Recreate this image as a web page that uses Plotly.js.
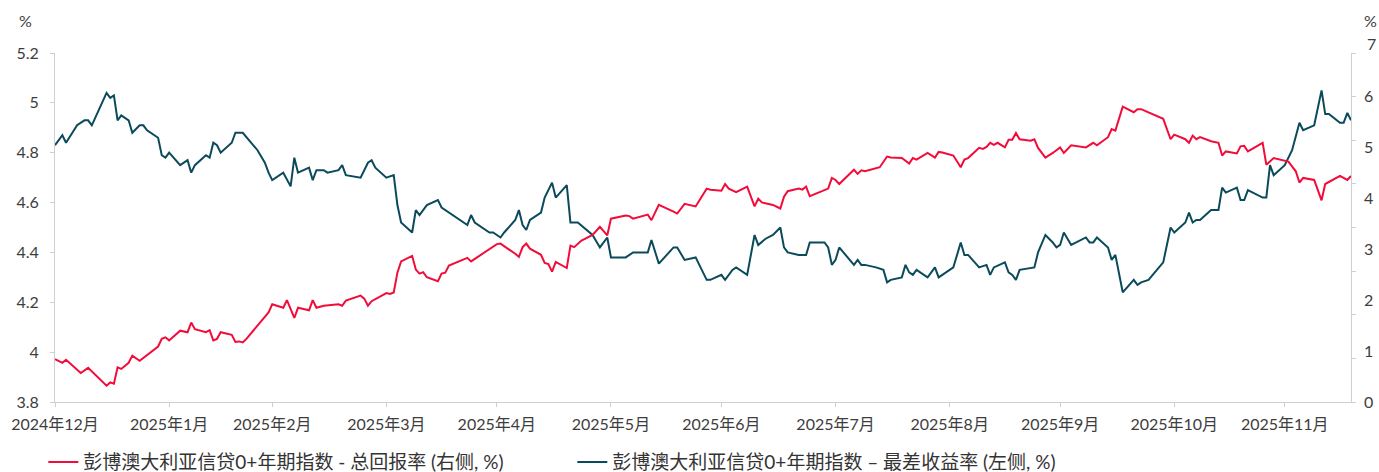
<!DOCTYPE html>
<html>
<head>
<meta charset="utf-8">
<script src="https://cdn.plot.ly/plotly-3.0.1.min.js"></script>
<style>
  html, body { margin: 0; padding: 0; background: #ffffff; }
  #chart { width: 1379px; height: 472px; }
</style>
</head>
<body>
<div id="chart"></div>
<script>
// ---- Data ----
// Total return (right axis, %)
const totalReturnDates = [
  '2024-12-31','2025-01-02','2025-01-03','2025-01-07','2025-01-09','2025-01-14','2025-01-15','2025-01-16','2025-01-17','2025-01-18',
  '2025-01-20','2025-01-21','2025-01-23','2025-01-28','2025-01-29','2025-01-30','2025-01-31','2025-02-03','2025-02-05','2025-02-06',
  '2025-02-07','2025-02-10','2025-02-11','2025-02-12','2025-02-13','2025-02-14','2025-02-17','2025-02-18','2025-02-19','2025-02-20',
  '2025-02-21','2025-02-25','2025-02-27','2025-02-28','2025-03-03','2025-03-04','2025-03-06','2025-03-07','2025-03-10','2025-03-11',
  '2025-03-12','2025-03-14','2025-03-18','2025-03-19','2025-03-20','2025-03-24','2025-03-25','2025-03-26','2025-03-27','2025-03-31',
  '2025-04-01','2025-04-02','2025-04-03','2025-04-04','2025-04-07','2025-04-08','2025-04-09','2025-04-10','2025-04-11','2025-04-14',
  '2025-04-15','2025-04-16','2025-04-17','2025-04-22','2025-04-23','2025-04-30','2025-05-01','2025-05-05','2025-05-06','2025-05-07',
  '2025-05-08','2025-05-09','2025-05-12','2025-05-13','2025-05-14','2025-05-15','2025-05-16','2025-05-19','2025-05-20','2025-05-21',
  '2025-05-23','2025-05-26','2025-05-28','2025-05-30','2025-05-31','2025-06-04','2025-06-05','2025-06-06','2025-06-10','2025-06-11',
  '2025-06-13','2025-06-17','2025-06-18','2025-06-20','2025-06-23','2025-06-26','2025-06-27','2025-06-30','2025-07-01','2025-07-02',
  '2025-07-04','2025-07-07','2025-07-09','2025-07-10','2025-07-11','2025-07-14','2025-07-16','2025-07-17','2025-07-18','2025-07-21',
  '2025-07-22','2025-07-23','2025-07-24','2025-07-29','2025-07-30','2025-07-31','2025-08-01','2025-08-05','2025-08-06','2025-08-07',
  '2025-08-08','2025-08-12','2025-08-14','2025-08-15','2025-08-18','2025-08-20','2025-08-21','2025-08-22','2025-08-25','2025-08-27',
  '2025-08-28','2025-08-29','2025-09-01','2025-09-03','2025-09-04','2025-09-05','2025-09-08','2025-09-09','2025-09-10','2025-09-11',
  '2025-09-12','2025-09-13','2025-09-15','2025-09-16','2025-09-17','2025-09-18','2025-09-19','2025-09-22','2025-09-23','2025-09-24',
  '2025-09-26','2025-09-28','2025-09-30','2025-10-01','2025-10-03','2025-10-07','2025-10-09','2025-10-10','2025-10-13','2025-10-14',
  '2025-10-15','2025-10-17','2025-10-20','2025-10-21','2025-10-22','2025-10-28','2025-10-30','2025-10-31','2025-11-03','2025-11-04',
  '2025-11-05','2025-11-06','2025-11-07','2025-11-10','2025-11-12','2025-11-13','2025-11-14','2025-11-17','2025-11-18','2025-11-19',
  '2025-11-20','2025-11-24','2025-11-25','2025-11-27','2025-11-28','2025-12-01','2025-12-03','2025-12-04','2025-12-05','2025-12-08',
  '2025-12-10','2025-12-11','2025-12-15','2025-12-17','2025-12-18'
];
const totalReturnValues = [
  0.84,0.77,0.83,0.57,0.67,0.32,0.385,0.36,0.68,0.65,
  0.77,0.91,0.81,1.09,1.24,1.27,1.21,1.40,1.37,1.56,
  1.43,1.37,1.41,1.21,1.24,1.37,1.32,1.18,1.19,1.17,
  1.24,1.58,1.76,1.92,1.85,2.00,1.65,1.85,1.80,2.00,
  1.85,1.89,1.92,1.89,1.99,2.09,2.03,1.89,1.98,2.14,
  2.12,2.15,2.54,2.76,2.87,2.60,2.52,2.55,2.45,2.37,
  2.52,2.54,2.68,2.83,2.76,3.10,3.11,2.91,2.85,3.04,
  3.11,3.01,2.89,2.73,2.71,2.56,2.75,2.63,3.07,3.04,
  3.17,3.28,3.44,3.27,3.60,3.66,3.65,3.60,3.68,3.57,
  3.87,3.74,3.70,3.89,3.84,4.19,4.17,4.15,4.28,4.19,
  4.12,4.23,3.84,3.99,3.92,3.87,3.80,4.03,4.14,4.19,
  4.17,4.23,4.04,4.19,4.40,4.36,4.28,4.56,4.48,4.55,
  4.53,4.61,4.82,4.80,4.79,4.68,4.79,4.76,4.89,4.80,
  4.91,4.90,4.84,4.61,4.76,4.79,4.99,4.97,5.01,5.09,
  5.05,5.09,5.00,5.15,5.15,5.28,5.16,5.13,5.16,4.99,
  4.80,4.89,5.00,4.89,5.04,5.00,5.09,5.04,5.20,5.36,
  5.33,5.80,5.69,5.75,5.75,5.56,5.16,5.25,5.16,5.09,
  5.23,5.16,5.20,5.12,5.09,4.84,4.92,4.88,5.02,5.03,
  4.92,5.09,4.66,4.79,4.77,4.72,4.53,4.31,4.40,4.36,
  3.96,4.28,4.44,4.36,4.44
];

// Yield to worst (left axis, %)
const yieldDates = [
  '2024-12-31','2025-01-02','2025-01-03','2025-01-06','2025-01-08','2025-01-09','2025-01-10','2025-01-14','2025-01-15','2025-01-16',
  '2025-01-17','2025-01-18','2025-01-20','2025-01-21','2025-01-23','2025-01-24','2025-01-25','2025-01-28','2025-01-29','2025-01-30',
  '2025-01-31','2025-02-03','2025-02-05','2025-02-06','2025-02-07','2025-02-10','2025-02-11','2025-02-12','2025-02-13','2025-02-14',
  '2025-02-17','2025-02-18','2025-02-20','2025-02-24','2025-02-26','2025-02-27','2025-02-28','2025-03-03','2025-03-05','2025-03-06',
  '2025-03-07','2025-03-10','2025-03-11','2025-03-12','2025-03-14','2025-03-15','2025-03-18','2025-03-19','2025-03-20','2025-03-24',
  '2025-03-26','2025-03-27','2025-03-28','2025-03-31','2025-04-02','2025-04-03','2025-04-04','2025-04-07','2025-04-08','2025-04-09',
  '2025-04-11','2025-04-14','2025-04-15','2025-04-17','2025-04-18','2025-04-20','2025-04-22','2025-04-23','2025-04-24','2025-04-28',
  '2025-04-29','2025-05-01','2025-05-02','2025-05-05','2025-05-06','2025-05-07','2025-05-08','2025-05-09','2025-05-12','2025-05-13',
  '2025-05-15','2025-05-16','2025-05-19','2025-05-20','2025-05-22','2025-05-26','2025-05-28','2025-05-30','2025-05-31','2025-06-02',
  '2025-06-03','2025-06-04','2025-06-06','2025-06-10','2025-06-11','2025-06-12','2025-06-13','2025-06-17','2025-06-18','2025-06-20',
  '2025-06-23','2025-06-26','2025-06-27','2025-06-30','2025-07-01','2025-07-03','2025-07-04','2025-07-07','2025-07-09','2025-07-10',
  '2025-07-12','2025-07-14','2025-07-16','2025-07-17','2025-07-18','2025-07-21','2025-07-23','2025-07-24','2025-07-28','2025-07-29',
  '2025-07-30','2025-07-31','2025-08-01','2025-08-05','2025-08-06','2025-08-07','2025-08-08','2025-08-11','2025-08-13','2025-08-14',
  '2025-08-15','2025-08-18','2025-08-19','2025-08-20','2025-08-21','2025-08-22','2025-08-25','2025-08-27','2025-08-28','2025-09-01',
  '2025-09-03','2025-09-04','2025-09-05','2025-09-08','2025-09-10','2025-09-11','2025-09-12','2025-09-15','2025-09-16','2025-09-17',
  '2025-09-18','2025-09-19','2025-09-23','2025-09-24','2025-09-26','2025-09-28','2025-09-29','2025-09-30','2025-10-01','2025-10-03',
  '2025-10-07','2025-10-08','2025-10-09','2025-10-10','2025-10-13','2025-10-14','2025-10-15','2025-10-17','2025-10-20','2025-10-21',
  '2025-10-22','2025-10-24','2025-10-28','2025-10-30','2025-10-31','2025-11-03','2025-11-04','2025-11-05','2025-11-06','2025-11-07',
  '2025-11-10','2025-11-12','2025-11-13','2025-11-14','2025-11-17','2025-11-18','2025-11-19','2025-11-20','2025-11-24','2025-11-25',
  '2025-11-26','2025-11-27','2025-11-30','2025-12-02','2025-12-03','2025-12-04','2025-12-05','2025-12-08','2025-12-10','2025-12-11',
  '2025-12-12','2025-12-15','2025-12-16','2025-12-17','2025-12-18'
];
const yieldValues = [
  4.83,4.87,4.84,4.91,4.93,4.93,4.91,5.04,5.02,5.03,
  4.93,4.95,4.93,4.88,4.91,4.91,4.89,4.86,4.79,4.78,
  4.80,4.75,4.77,4.72,4.75,4.79,4.78,4.84,4.83,4.80,
  4.84,4.88,4.88,4.81,4.76,4.72,4.69,4.72,4.665,4.78,
  4.72,4.74,4.69,4.73,4.73,4.72,4.73,4.75,4.71,4.70,
  4.76,4.77,4.74,4.70,4.71,4.59,4.52,4.48,4.57,4.55,
  4.59,4.61,4.58,4.56,4.55,4.53,4.51,4.55,4.52,4.48,
  4.48,4.46,4.48,4.53,4.57,4.51,4.49,4.53,4.56,4.62,
  4.68,4.62,4.67,4.52,4.52,4.47,4.42,4.46,4.38,4.38,
  4.38,4.38,4.40,4.40,4.45,4.40,4.355,4.42,4.42,4.37,
  4.38,4.29,4.29,4.31,4.29,4.33,4.34,4.31,4.47,4.43,
  4.455,4.47,4.50,4.42,4.40,4.39,4.39,4.44,4.44,4.42,
  4.35,4.37,4.42,4.35,4.37,4.35,4.35,4.34,4.33,4.28,
  4.29,4.30,4.35,4.32,4.31,4.33,4.30,4.34,4.30,4.34,
  4.44,4.39,4.39,4.34,4.35,4.31,4.34,4.36,4.32,4.31,
  4.29,4.33,4.34,4.40,4.47,4.44,4.42,4.43,4.48,4.43,
  4.46,4.44,4.44,4.46,4.42,4.37,4.39,4.24,4.29,4.27,
  4.28,4.29,4.36,4.50,4.48,4.52,4.56,4.52,4.53,4.53,
  4.57,4.57,4.66,4.64,4.66,4.61,4.61,4.65,4.62,4.62,
  4.75,4.71,4.75,4.81,4.86,4.92,4.89,4.91,5.05,4.955,
  4.955,4.92,4.92,4.96,4.93
];

// Axis ticks
const monthTickDates = ['2024-12-31','2025-01-31','2025-02-28','2025-03-31','2025-04-30','2025-05-31',
                        '2025-06-30','2025-07-31','2025-08-31','2025-09-30','2025-10-31','2025-11-30'];
const monthTickLabels = ['2024年12月','2025年1月','2025年2月','2025年3月','2025年4月','2025年5月',
                         '2025年6月','2025年7月','2025年8月','2025年9月','2025年10月','2025年11月'];
const leftTickValues = [3.8, 4.0, 4.2, 4.4, 4.6, 4.8, 5.0, 5.2];
const leftTickLabels = ['3.8','4','4.2','4.4','4.6','4.8','5','5.2'];
const rightTickValues = [0, 1, 2, 3, 4, 5, 6];
const rightTickLabels = ['0','1','2','3','4','5','6'];
const rightTopLabel = '7';
const rightTickMarkValues = [0, 1, 2, 3, 4, 5, 6, 7, 8];

const seriesNames = ['彭博澳大利亚信贷0+年期指数 - 总回报率 (右侧, %)',
                     '彭博澳大利亚信贷0+年期指数 – 最差收益率 (左侧, %)'];

// ---- Styling ----
const FONT = 'Lato, "Noto Sans CJK SC", "Noto Sans", sans-serif';
const TEXT = '#3d3d3d';
const AXIS = '#cfcfcf';
const RED = '#F20C3A';
const TEAL = '#0B4A5B';

const traces = [
  {
    x: totalReturnDates, y: totalReturnValues, name: seriesNames[0],
    type: 'scatter', mode: 'lines', yaxis: 'y2',
    line: { color: RED, width: 2 }
  },
  {
    x: yieldDates, y: yieldValues, name: seriesNames[1],
    type: 'scatter', mode: 'lines', yaxis: 'y',
    line: { color: TEAL, width: 2 }
  },
  {
    x: [], y: [], yaxis: 'y3', showlegend: false, hoverinfo: 'skip',
    type: 'scatter', mode: 'lines'
  }
];

const layout = {
  width: 1379, height: 472,
  margin: { l: 55, r: 28, t: 53, b: 70, autoexpand: false },
  paper_bgcolor: '#ffffff', plot_bgcolor: '#ffffff',
  font: { family: FONT, size: 16, color: TEXT },
  showlegend: true,
  legend: {
    orientation: 'h', x: -0.009, xanchor: 'left', y: -0.172, yanchor: 'middle',
    font: { family: FONT, size: 19, color: '#333333' },
    entrywidth: 484, entrywidthmode: 'pixels',
    bgcolor: 'rgba(0,0,0,0)', traceorder: 'normal'
  },
  xaxis: {
    type: 'date', range: ['2024-12-31', '2025-12-18'],
    tickmode: 'array', tickvals: monthTickDates, ticktext: monthTickLabels,
    ticks: 'outside', ticklen: 4, tickcolor: AXIS,
    showline: true, linecolor: AXIS, linewidth: 1,
    showgrid: false, zeroline: false, ticklabelstandoff: 4,
    tickfont: { family: FONT, size: 16, color: TEXT }
  },
  yaxis: {
    range: [3.8, 5.2], tickmode: 'array', tickvals: leftTickValues, ticktext: leftTickLabels,
    ticks: 'outside', ticklen: 4, tickcolor: AXIS,
    showline: true, linecolor: AXIS, linewidth: 1,
    showgrid: false, zeroline: false, ticklabelstandoff: 8,
    tickfont: { family: FONT, size: 16, color: TEXT }
  },
  yaxis2: {
    overlaying: 'y', side: 'right', anchor: 'x',
    range: [0, 6.853], tickmode: 'array', tickvals: rightTickValues, ticktext: rightTickLabels,
    ticks: '', showline: false, showgrid: false, zeroline: false, ticklabelstandoff: 12,
    tickfont: { family: FONT, size: 16, color: TEXT }
  },
  yaxis3: {
    overlaying: 'y', side: 'right', anchor: 'x',
    range: [0, 8], tickmode: 'array', tickvals: rightTickMarkValues,
    showticklabels: false, ticks: 'outside', ticklen: 4, tickcolor: AXIS,
    showline: true, linecolor: AXIS, linewidth: 1,
    showgrid: false, zeroline: false
  },
  annotations: [
    { xref: 'paper', yref: 'paper', x: 0, y: 1, xshift: -30, yshift: 33,
      text: '%', showarrow: false, xanchor: 'center', yanchor: 'middle',
      font: { family: FONT, size: 16, color: TEXT } },
    { xref: 'paper', yref: 'paper', x: 1, y: 1, xshift: 19, yshift: 33,
      text: '%', showarrow: false, xanchor: 'center', yanchor: 'middle',
      font: { family: FONT, size: 16, color: TEXT } },
    { xref: 'paper', yref: 'paper', x: 1, y: 1, xshift: 14, yshift: 10,
      text: rightTopLabel, showarrow: false, xanchor: 'left', yanchor: 'middle',
      font: { family: FONT, size: 16, color: TEXT } }
  ]
};

Plotly.newPlot('chart', traces, layout, { displayModeBar: false, staticPlot: true });
</script>
</body>
</html>
